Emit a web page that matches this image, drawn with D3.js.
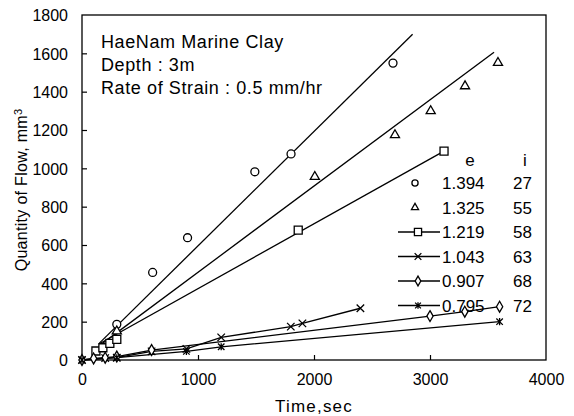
<!DOCTYPE html>
<html>
<head>
<meta charset="utf-8">
<script src="https://cdn.jsdelivr.net/npm/d3@7"></script>
<style>
  body { margin: 0; background: #fff; }
  svg { font-family: "Liberation Sans", Arial, sans-serif; }
</style>
</head>
<body>
<svg id="chart" width="574" height="416"></svg>
<script>
// measured points [time sec, flow mm3]
const circles   = [[300,186],[609,457],[910,638],[1490,982],[1802,1075],[2681,1549]];
const triangles = [[300,150],[2007,956],[2698,1174],[3006,1299],[3302,1429],[3586,1551]];
const squares   = [[120,47],[180,64],[240,87],[300,108],[1864,678],[3121,1090]];
const crosses   = [[0,0],[200,10],[300,12],[600,45],[900,58],[1200,118],[1800,174],[1900,191],[2400,270]];
const diamonds  = [[0,0],[100,8],[200,12],[300,18],[600,52],[3000,229],[3300,252],[3600,278]];
const stars     = [[0,0],[300,12],[900,45],[1200,69],[3600,200]];

// straight fitted lines (end points)
const circleFit   = [[150,88],[2850,1700]];
const triangleFit = [[150,75],[3552,1606]];
const squareFit   = [[150,85],[3121,1090]];

const eValues = ["1.394","1.325","1.219","1.043","0.907","0.795"];
const iValues = ["27","55","58","63","68","72"];
const xTicks = [0,1000,2000,3000,4000];
const yTicks = [0,200,400,600,800,1000,1200,1400,1600,1800];

const svg = d3.select("#chart"),
      margin = { top: 15, right: 28, bottom: 56, left: 82 },
      width = +svg.attr("width") - margin.left - margin.right,
      height = +svg.attr("height") - margin.top - margin.bottom;

const g = svg.append("g").attr("transform", `translate(${margin.left},${margin.top})`);

const x = d3.scaleLinear().domain([0, 4000]).range([0, width]);
const y = d3.scaleLinear().domain([0, 1800]).range([height, 0]);

// frame
g.append("rect")
  .attr("width", width).attr("height", height)
  .attr("fill", "none").attr("stroke", "#000").attr("stroke-width", 1.3);

// inward ticks
const xAxis = g.append("g").attr("transform", `translate(0,${height})`)
  .call(d3.axisBottom(x).tickValues(xTicks).tickSize(-5).tickPadding(14).tickFormat(d3.format("d")));
const yAxis = g.append("g")
  .call(d3.axisLeft(y).tickValues(yTicks).tickSize(-5).tickPadding(14).tickFormat(d3.format("d")));
[xAxis, yAxis].forEach(a => {
  a.select(".domain").remove();
  a.selectAll("line").attr("stroke", "#000").attr("stroke-width", 1.2);
  a.selectAll("text").attr("fill", "#000").style("font-size", "16px")
    .style("font-family", "'Liberation Sans', Arial, sans-serif");
});
xAxis.selectAll(".tick line").filter(d => d === 0 || d === 4000).remove();
yAxis.selectAll(".tick line").filter(d => d === 0 || d === 1800).remove();
yAxis.selectAll("text").attr("dy", "0.36em");

// axis titles
svg.append("text")
  .attr("x", margin.left + width / 2)
  .attr("y", 412)
  .attr("text-anchor", "middle")
  .style("font-size", "17px")
  .style("letter-spacing", "1.2px")
  .text("Time,sec");

const yl = svg.append("text")
  .attr("transform", "rotate(-90)")
  .attr("x", -190)
  .attr("y", 27)
  .attr("text-anchor", "middle")
  .style("font-size", "16px")
  .style("letter-spacing", "0.3px");
yl.append("tspan").text("Quantity of Flow, mm");
yl.append("tspan").attr("dy", "-0.5em").style("font-size", "11px").text("3");

// annotation
const notes = ["HaeNam Marine Clay", "Depth : 3m", "Rate of Strain : 0.5 mm/hr"];
svg.selectAll(".note").data(notes).enter().append("text")
  .attr("class", "note")
  .attr("x", 101)
  .attr("y", (d, i) => 48 + i * 23)
  .style("font-size", "18px")
  .style("letter-spacing", "0.6px")
  .text(d => d);

// lines
const line = d3.line().x(d => x(d[0])).y(d => y(d[1]));
[circleFit, triangleFit, squareFit, crosses, diamonds, stars].forEach(s => {
  g.append("path").attr("d", line(s))
    .attr("fill", "none").attr("stroke", "#000").attr("stroke-width", 1.3);
});

// marker shapes
const symX = { draw(ctx, size) { const r = Math.sqrt(size) / 2;
  ctx.moveTo(-r, -r); ctx.lineTo(r, r); ctx.moveTo(r, -r); ctx.lineTo(-r, r); } };
const symStar = { draw(ctx, size) { const r = Math.sqrt(size) / 2;
  ctx.moveTo(-r, -r); ctx.lineTo(r, r); ctx.moveTo(r, -r); ctx.lineTo(-r, r);
  ctx.moveTo(0, -r * 1.1); ctx.lineTo(0, r * 1.1); } };

const series = [
  { pts: circles,   type: d3.symbolCircle,   size: 50, fill: "#fff", legendLine: false },
  { pts: triangles, type: d3.symbolTriangle, size: 36, fill: "#fff", legendLine: false },
  { pts: squares,   type: d3.symbolSquare,   size: 64, fill: "#fff", legendLine: true },
  { pts: crosses,   type: symX,              size: 56, fill: "none", legendLine: true },
  { pts: diamonds,  type: d3.symbolDiamond,  size: 34, fill: "#fff", legendLine: true },
  { pts: stars,     type: symStar,           size: 42, fill: "none", legendLine: true }
];

series.forEach(s => {
  g.selectAll(null).data(s.pts).enter().append("path")
    .attr("transform", d => `translate(${x(d[0])},${y(d[1])})`)
    .attr("d", d3.symbol().type(s.type).size(s.size))
    .attr("fill", s.fill).attr("stroke", "#000").attr("stroke-width", 1.3);
});

// legend
const legend = svg.append("g");
legend.append("text").attr("x", 470).attr("y", 166).attr("text-anchor", "middle")
  .style("font-size", "17px").text("e");
legend.append("text").attr("x", 525).attr("y", 166).attr("text-anchor", "middle")
  .style("font-size", "17px").text("i");

series.forEach((s, i) => {
  const yy = 183 + i * 24.5;
  const row = legend.append("g");
  if (s.legendLine) {
    row.append("line").attr("x1", 398).attr("x2", 440).attr("y1", yy).attr("y2", yy)
      .attr("stroke", "#000").attr("stroke-width", 1.3);
  }
  row.append("path")
    .attr("transform", `translate(${s.legendLine ? 418 : 415},${yy})`)
    .attr("d", d3.symbol().type(s.type).size(s.legendLine ? s.size * 0.8 : s.size * 0.6))
    .attr("fill", s.fill === "none" ? "none" : "#fff").attr("stroke", "#000").attr("stroke-width", 1.3);
  row.append("text").attr("x", 442).attr("y", yy).attr("dy", "0.36em")
    .style("font-size", "17px").text(eValues[i]);
  row.append("text").attr("x", 532).attr("y", yy).attr("dy", "0.36em").attr("text-anchor", "end")
    .style("font-size", "17px").text(iValues[i]);
});
</script>
</body>
</html>
